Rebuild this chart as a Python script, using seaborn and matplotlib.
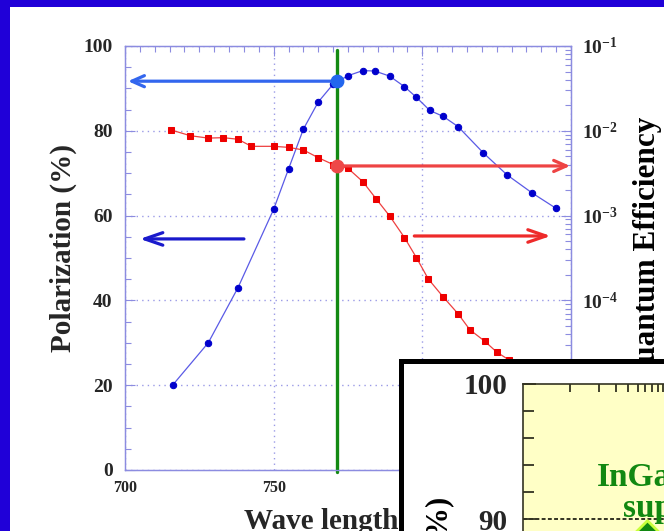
import numpy as np
import pandas as pd
import matplotlib
matplotlib.use("Agg")
import matplotlib.pyplot as plt
import seaborn as sns
from matplotlib.patches import Rectangle
from matplotlib.ticker import MultipleLocator, FixedLocator, NullFormatter

# ---------------- data ----------------
wl_pol = [716, 728, 738, 750, 755, 760, 765, 770, 775, 780, 784, 789, 794, 798,
          802.5, 807, 812, 820.5, 828.5, 837, 845]
polarization = [20, 30, 43, 61.5, 71, 80.4, 86.8, 91, 93, 94.2, 94.1, 92.9, 90.4,
                87.9, 84.8, 83.4, 81.0, 74.8, 69.6, 65.3, 61.7]
wl_qe = [715.6, 722, 728, 733, 738, 742.5, 750, 755, 760, 765, 770, 775, 780,
         784.5, 789, 794, 798, 802, 807, 812, 816, 821, 825, 829]
qe = [1.02e-2, 8.75e-3, 8.2e-3, 8.3e-3, 7.95e-3, 6.56e-3, 6.56e-3, 6.38e-3,
      5.94e-3, 4.82e-3, 4.0e-3, 3.61e-3, 2.51e-3, 1.57e-3, 9.9e-4, 5.5e-4,
      3.2e-4, 1.79e-4, 1.1e-4, 6.97e-5, 4.5e-5, 3.3e-5, 2.46e-5, 2.0e-5]
highlight_wl = 771.4
highlight_pol = 91.7
highlight_qe = 3.85e-3

x_ticks = [700, 750, 800, 850]
x_tick_labels = ["700", "750", "800", "850"]
pol_ticks = [0, 20, 40, 60, 80, 100]
pol_tick_labels = ["0", "20", "40", "60", "80", "100"]
qe_ticks = [1e-6, 1e-5, 1e-4, 1e-3, 1e-2, 1e-1]
# the two lowest decade labels sit under the inset in the original slide
qe_tick_labels = ["", "", "$10^{-4}$", "$10^{-3}$", "$10^{-2}$", "$10^{-1}$"]
inset_ticks = [80, 90, 100]
inset_tick_labels = ["80", "90", "100"]
inset_point_x = [6.2]
inset_point_y = [89.0]

# ---------------- style ----------------
sns.set_theme(style="white")
plt.rcParams["font.family"] = ["Liberation Serif", "DejaVu Serif"]
plt.rcParams["font.weight"] = "bold"
plt.rcParams["mathtext.fontset"] = "custom"
plt.rcParams["mathtext.rm"] = "Liberation Serif:bold"
plt.rcParams["mathtext.it"] = "Liberation Serif:bold"
plt.rcParams["mathtext.bf"] = "Liberation Serif:bold"

W, H = 664, 531
def px(l, t, r, b):
    return [l / W, 1 - b / H, (r - l) / W, (b - t) / H]

BG = "#2000d8"
AX_C = "#8c8ce0"

fig = plt.figure(figsize=(W / 100, H / 100), dpi=100, facecolor=BG)
fig.add_artist(Rectangle((10 / W, 0), 1, 1 - 7 / H, transform=fig.transFigure,
                         facecolor="white", edgecolor="none", zorder=-10))

ax = fig.add_axes(px(125, 46, 571, 470))
ax.set_facecolor("white")
ax2 = ax.twinx()

df_pol = pd.DataFrame({"wl": wl_pol, "pol": polarization})
df_qe = pd.DataFrame({"wl": wl_qe, "qe": qe})

sns.lineplot(data=df_pol, x="wl", y="pol", ax=ax, sort=False, color="#5a5ae6",
             linewidth=0.9, marker="o", markersize=4.6, markerfacecolor="#0000cc",
             markeredgecolor="#0000cc", zorder=3)
sns.lineplot(data=df_qe, x="wl", y="qe", ax=ax2, sort=False, color="#ee4040",
             linewidth=0.9, marker="s", markersize=4.4, markerfacecolor="#ee0000",
             markeredgecolor="#ee0000", zorder=3)

ax.set_xlim(700, 850)
ax.set_ylim(0, 100)
ax2.set_yscale("log")
ax2.set_ylim(1e-6, 1e-1)

ax.set_xticks(x_ticks, x_tick_labels)
ax.set_yticks(pol_ticks, pol_tick_labels)
ax.xaxis.set_minor_locator(MultipleLocator(5))
ax.yaxis.set_minor_locator(MultipleLocator(5))
ax2.set_yticks(qe_ticks, qe_tick_labels)
ax2.yaxis.set_minor_formatter(NullFormatter())

ax.grid(True, which="major", linestyle=(0, (1, 3)), color="#9a9ae6", linewidth=1.0)
ax2.grid(False)

ax.tick_params(axis="both", which="both", direction="in", color=AX_C, top=True,
               right=False, width=0.8)
ax.tick_params(which="major", length=7)
ax.tick_params(which="minor", length=4)
ax.tick_params(axis="y", labelsize=14, pad=9)
ax.tick_params(axis="x", labelsize=11.5, pad=7)
ax2.tick_params(axis="y", which="both", direction="in", color=AX_C, width=0.8,
                labelsize=14, pad=8)
ax2.tick_params(which="major", length=7)
ax2.tick_params(which="minor", length=4)
for a in (ax, ax2):
    for s in a.spines.values():
        s.set_color(AX_C)
        s.set_linewidth(0.9)

# highlight line, dots and arrows
ax.axvline(highlight_wl, ymin=-0.004, ymax=0.99, color="#138a13", linewidth=2.4,
           clip_on=False, zorder=4)
ax.scatter([highlight_wl], [highlight_pol], s=80, color="#2266ee", zorder=6, clip_on=False)
ax2.scatter([highlight_wl], [highlight_qe], s=80, color="#ee4848", zorder=6, clip_on=False)

ax.annotate("", xy=(701, highlight_pol), xytext=(highlight_wl, highlight_pol),
            arrowprops=dict(arrowstyle="->,head_length=0.9,head_width=0.4",
                            color="#3366ee", lw=2.3, mutation_scale=10,
                            shrinkA=0, shrinkB=0), zorder=5)
ax.annotate("", xy=(705, 54.5), xytext=(740, 54.5),
            arrowprops=dict(arrowstyle="->,head_length=1.3,head_width=0.45",
                            color="#1a1acc", lw=2.3, mutation_scale=10,
                            shrinkA=0, shrinkB=0), zorder=5)
ax2.annotate("", xy=(849.7, highlight_qe), xytext=(highlight_wl, highlight_qe),
             arrowprops=dict(arrowstyle="->,head_length=0.9,head_width=0.4",
                             color="#ee4444", lw=2.3, mutation_scale=10,
                             shrinkA=0, shrinkB=0), zorder=5)
ax2.annotate("", xy=(843.2, 5.75e-4), xytext=(797.3, 5.75e-4),
             arrowprops=dict(arrowstyle="->,head_length=1.3,head_width=0.45",
                             color="#ee2a2a", lw=2.3, mutation_scale=10,
                             shrinkA=0, shrinkB=0), zorder=5)

ax.set_xlabel("Wave length (nm)", fontsize=21, fontweight="bold")
ax.xaxis.set_label_coords(0.516, -0.088)
ax.set_ylabel("Polarization (%)", fontsize=21, fontweight="bold")
ax.yaxis.set_label_coords(-0.107, 0.524)
ax2.set_ylabel("")
fig.text(648 / W, 1 - 117 / H, "Quantum Efficiency", rotation=90, ha="center",
         va="top", fontsize=22.5, fontweight="bold", color="black")

# ---------------- inset ----------------
box = fig.add_axes(px(401, 361, 760, 620))
box.set_zorder(5)
box.set_facecolor("white")
box.set_xticks([])
box.set_yticks([])
box.grid(False)
for s in box.spines.values():
    s.set_color("black")
    s.set_linewidth(3.6)

inner = fig.add_axes(px(523, 384, 900, 654))
inner.set_zorder(6)
inner.set_facecolor("#ffffc6")
inner.set_xscale("log")
inner.set_xlim(10 ** (-47 / 97), 10 ** (330 / 97))
inner.set_ylim(80, 100)
inner.xaxis.set_major_locator(FixedLocator([1, 10, 100, 1000]))
inner.xaxis.set_minor_locator(FixedLocator([k * 10 ** e for e in range(0, 3) for k in range(2, 10)]))
inner.xaxis.set_major_formatter(NullFormatter())
inner.xaxis.set_minor_formatter(NullFormatter())
inner.set_yticks(inset_ticks, inset_tick_labels)
inner.yaxis.set_minor_locator(MultipleLocator(2))
inner.tick_params(axis="x", which="both", top=True, bottom=False, labeltop=False,
                  labelbottom=False, direction="in", length=6, width=1.3, color="#333322")
inner.tick_params(axis="y", which="both", left=True, direction="in", width=1.3,
                  color="#333322", labelsize=21, pad=11)
inner.tick_params(axis="y", which="major", length=9)
inner.tick_params(axis="y", which="minor", length=8)
inner.grid(False)
inner.axhline(90, color="#333322", linestyle=(0, (2, 1.2)), linewidth=1.4, zorder=1)
for s in inner.spines.values():
    s.set_color("#333322")
    s.set_linewidth(1.2)
sns.scatterplot(x=inset_point_x, y=inset_point_y, ax=inner, marker="D", s=170,
                color="#118811", edgecolor="#c8ff3c", linewidth=2.0, zorder=5)
inner.set_xlabel("")
inner.set_ylabel("")

fig.text(597 / W, 1 - 486 / H, "InGaAs", color="#118811", fontsize=24,
         fontweight="bold", ha="left", va="baseline", zorder=20)
fig.text(623 / W, 1 - 517 / H, "superlattice", color="#118811", fontsize=24,
         fontweight="bold", ha="left", va="baseline", zorder=20)
fig.text(440 / W, 1 - 497 / H, "Polarization (%)", rotation=90, ha="center",
         va="top", fontsize=22, fontweight="bold", color="black", zorder=20)

fig.savefig("out.png", dpi=100, facecolor=fig.get_facecolor())
